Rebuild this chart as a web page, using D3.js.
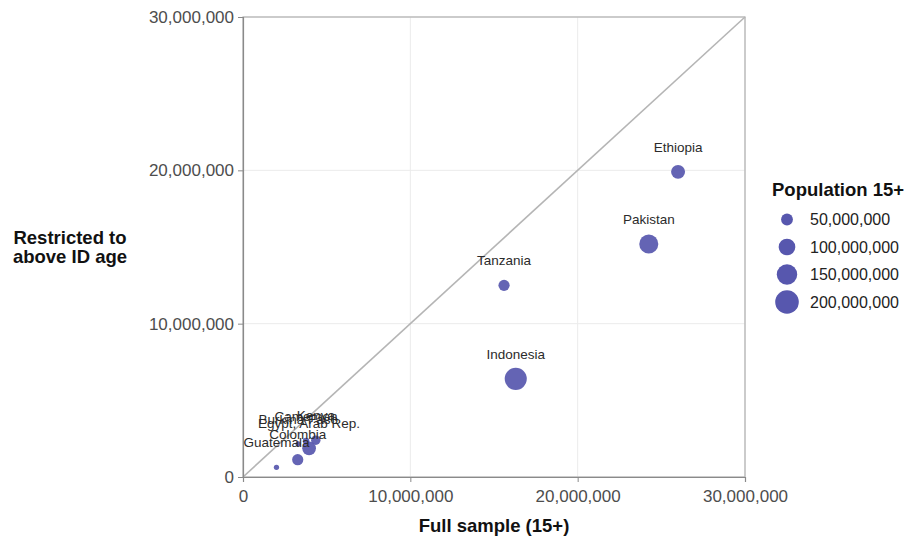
<!DOCTYPE html>
<html><head><meta charset="utf-8">
<script src="https://cdn.jsdelivr.net/npm/d3@7"></script>
<style>
body{margin:0;background:#fff;}
text{font-family:"Liberation Sans",Arial,sans-serif;}
</style></head>
<body><svg id="c" width="914" height="537"></svg>
<script>
const countries = ["Ethiopia","Pakistan","Tanzania","Indonesia","Burkina Faso","Cameroon","Kenya","Egypt, Arab Rep.","Colombia","Guatemala"];
const fullSample = [26.0e6, 24.25e6, 15.6e6, 16.3e6, 3.3e6, 3.77e6, 4.35e6, 3.95e6, 3.27e6, 2.0e6];
const restricted = [19.9e6, 15.2e6, 12.5e6, 6.4e6, 2.15e6, 2.35e6, 2.4e6, 1.87e6, 1.13e6, 0.63e6];
const population = [70e6, 130e6, 45e6, 175e6, 11e6, 16e6, 32e6, 68e6, 45e6, 10e6];
const axisTicks = [0, 10e6, 20e6, 30e6];
const legendValues = [50e6, 100e6, 150e6, 200e6];

const data = countries.map((c,i)=>({name:c, x:fullSample[i], y:restricted[i], pop:population[i]}));
const svg = d3.select("#c");
const L=243, R=745, T=17, B=477;
const x = d3.scaleLinear().domain([0,30e6]).range([L,R]);
const y = d3.scaleLinear().domain([0,30e6]).range([B,T]);
const r = d3.scaleSqrt().domain([0,200e6]).range([0,11.8]);
const fmt = d3.format(",");
const ptColor = "#5757ae";

// grid
const g = svg.append("g");
g.selectAll("line.vx").data(axisTicks).join("line")
  .attr("x1",d=>x(d)).attr("x2",d=>x(d)).attr("y1",T).attr("y2",B)
  .attr("stroke","#ebebeb").attr("stroke-width",1);
g.selectAll("line.hy").data(axisTicks).join("line")
  .attr("y1",d=>y(d)).attr("y2",d=>y(d)).attr("x1",L).attr("x2",R)
  .attr("stroke","#ebebeb").attr("stroke-width",1);
// panel border
svg.append("rect").attr("x",L).attr("y",T).attr("width",R-L).attr("height",B-T)
  .attr("fill","none").attr("stroke","#b0b0b0").attr("stroke-width",1.2);

// diagonal
svg.append("line").attr("x1",x(0)).attr("y1",y(0)).attr("x2",x(30e6)).attr("y2",y(30e6))
  .attr("stroke","#b5b5b5").attr("stroke-width",1.6);

// axes
const xAxis = d3.axisBottom(x).tickValues(axisTicks).tickFormat(fmt).tickSize(5).tickPadding(4);
const yAxis = d3.axisLeft(y).tickValues(axisTicks).tickFormat(fmt).tickSize(5).tickPadding(4);
const gx = svg.append("g").attr("transform",`translate(0,${B})`).call(xAxis);
const gy = svg.append("g").attr("transform",`translate(${L},0)`).call(yAxis);
[gx,gy].forEach(a=>{
  a.select(".domain").attr("stroke","#8a8a8a").attr("stroke-width",1.2);
  a.selectAll(".tick line").attr("stroke","#8a8a8a");
  a.selectAll(".tick text").attr("fill","#4d4d4d").style("font-size","17px");
});
gx.selectAll(".tick text").attr("dy","0.95em");

// points
svg.append("g").selectAll("circle").data(data).join("circle")
  .attr("cx",d=>x(d.x)).attr("cy",d=>y(d.y)).attr("r",d=>r(d.pop))
  .attr("fill",ptColor).attr("fill-opacity",0.92);

// labels
svg.append("g").selectAll("text").data(data).join("text")
  .attr("x",d=>x(d.x)).attr("y",d=>y(d.y)-25).attr("dy","0.35em")
  .attr("text-anchor","middle").attr("fill","#2b2b2b").style("font-size","13.5px")
  .text(d=>d.name);

// axis titles
svg.append("text").attr("x",(L+R)/2).attr("y",532).attr("text-anchor","middle")
  .style("font-size","18.5px").style("font-weight","bold").attr("fill","#111").text("Full sample (15+)");
const yt = svg.append("text").attr("x",70).attr("y",244).attr("text-anchor","middle")
  .style("font-size","18.5px").style("font-weight","bold").attr("fill","#111");
yt.append("tspan").attr("x",70).text("Restricted to");
yt.append("tspan").attr("x",70).attr("dy",19).text("above ID age");

// legend
const lg = svg.append("g");
lg.append("text").attr("x",772).attr("y",196).style("font-size","18.5px").style("font-weight","bold")
  .attr("fill","#111").text("Population 15+");
const ly = d3.scalePoint().domain(legendValues).range([219.5,302]);
lg.selectAll("circle").data(legendValues).join("circle")
  .attr("cx",787).attr("cy",d=>ly(d)).attr("r",d=>r(d)).attr("fill",ptColor);
lg.selectAll("text.l").data(legendValues).join("text").attr("class","l")
  .attr("x",810).attr("y",d=>ly(d)).attr("dy","0.35em").style("font-size","16px")
  .attr("fill","#222").text(d=>fmt(d));
</script></body></html>
